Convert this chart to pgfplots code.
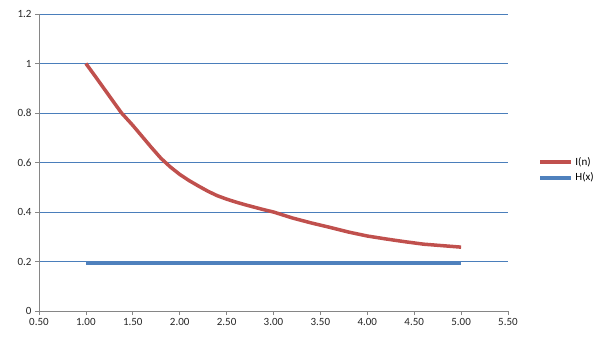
\documentclass[border=0pt]{standalone}
\usepackage{pgfplots}
\pgfplotsset{compat=1.18}
\usepackage{fontspec}
\setmainfont{Carlito}
\definecolor{redI}{HTML}{C0504D}
\definecolor{blueH}{HTML}{4F81BD}
\definecolor{gridB}{HTML}{4A7EBB}
\definecolor{axG}{HTML}{868686}
\begin{document}
\begin{tikzpicture}[x=1pt,y=1pt]
\useasboundingbox (0,0) rectangle (605,340);
\begin{axis}[
  at={(39pt,29pt)}, anchor=south west,
  scale only axis, width=469pt, height=297pt,
  xmin=0.5, xmax=5.5, ymin=0, ymax=1.2,
  xtick={0.5,1,1.5,2,2.5,3,3.5,4,4.5,5,5.5},
  xticklabels={0.50,1.00,1.50,2.00,2.50,3.00,3.50,4.00,4.50,5.00,5.50},
  ytick={0,0.2,0.4,0.6,0.8,1,1.2},
  yticklabels={0,0.2,0.4,0.6,0.8,1,1.2},
  axis x line*=bottom, axis y line*=left,
  axis line style={axG, line width=0.8pt, -},
  tick align=outside, tick style={axG, line width=0.8pt},
  major tick length=4pt,
  ymajorgrids, grid style={gridB, line width=0.8pt},
  ticklabel style={font=\fontsize{11}{13}\selectfont, text=black!85},
  legend style={draw=none, fill=none, at={(1.058,0.475)}, anchor=west,
    font=\fontsize{11}{13}\selectfont, row sep=2pt},
  legend cell align=left,
  legend image code/.code={\draw[#1, line width=4pt] (0pt,0pt) -- (31pt,0pt);},
]
\addplot[redI, line width=3.5pt] coordinates {
(1.0,1.000) (1.1,0.948) (1.2,0.895) (1.3,0.842) (1.38,0.800) (1.5,0.750)
(1.6,0.705) (1.7,0.660) (1.8,0.617) (1.9,0.582) (2.0,0.552) (2.1,0.527)
(2.2,0.505) (2.3,0.484) (2.4,0.466) (2.5,0.452) (2.6,0.440) (2.7,0.429)
(2.8,0.419) (2.9,0.409) (3.0,0.400) (3.2,0.376) (3.4,0.356) (3.6,0.338)
(3.8,0.319) (4.0,0.303) (4.2,0.291) (4.4,0.280) (4.6,0.270) (4.8,0.264)
(5.0,0.258)
};
\addlegendentry{I(n)}
\addplot[blueH, line width=3.5pt] coordinates {(1.0,0.193) (5.0,0.193)};
\addlegendentry{H(x)}
\end{axis}
\end{tikzpicture}
\end{document}
